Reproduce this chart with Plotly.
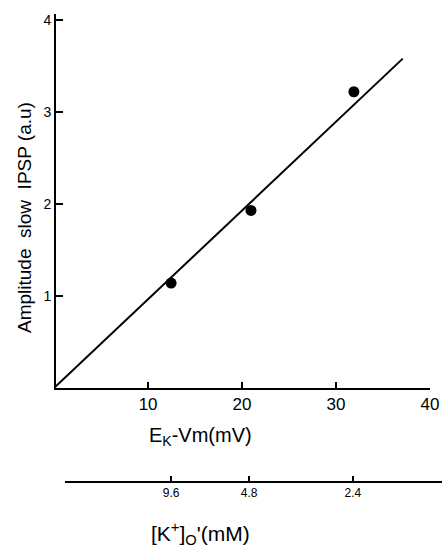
import plotly.graph_objects as go

# Data
ek_vm = [12.45, 20.95, 31.9]          # E_K - Vm (mV)
amplitude = [1.14, 1.93, 3.22]         # slow IPSP amplitude (a.u.)
fit_x = [0.0, 37.1]
fit_y = [0.0, 3.58]
x_ticks = [10, 20, 30, 40]
y_ticks = [1, 2, 3, 4]
k_conc_pos = [12.45, 20.75, 31.8]      # positions on E_K-Vm scale
k_conc_labels = ["9.6", "4.8", "2.4"]  # [K+]o (mM)

FONT = "Liberation Sans, Arial, sans-serif"

fig = go.Figure()
fig.add_trace(go.Scatter(x=fit_x, y=fit_y, mode="lines",
                         line=dict(color="black", width=2),
                         hoverinfo="skip", showlegend=False))
fig.add_trace(go.Scatter(x=ek_vm, y=amplitude, mode="markers",
                         marker=dict(color="black", size=11),
                         showlegend=False, cliponaxis=False))
fig.add_trace(go.Scatter(x=k_conc_pos, y=[None] * len(k_conc_pos),
                         xaxis="x2", yaxis="y", mode="markers",
                         showlegend=False, hoverinfo="skip"))

W, H = 442, 547
l, r, t, b = 56, 12, 14, 65
pw = W - l - r
ph = H - t - b

fig.update_layout(
    width=W, height=H,
    margin=dict(l=l, r=r, t=t, b=b, autoexpand=False),
    plot_bgcolor="rgba(0,0,0,0)", paper_bgcolor="white",
    font=dict(family=FONT, color="black"),
    xaxis=dict(domain=[0, (430 - l) / pw], range=[0.2, 40],
               tickvals=x_ticks, ticks="inside", ticklen=6, tickwidth=1.5,
               tickcolor="black", showline=True, linewidth=2,
               linecolor="black", showgrid=False, zeroline=False,
               tickfont=dict(size=17), anchor="y", automargin=False),
    yaxis=dict(domain=[(482 - 388) / ph, 1], range=[0, 4.065],
               tickvals=y_ticks, ticks="inside", ticklen=7, tickwidth=1.5,
               tickcolor="black", showline=True, linewidth=2,
               linecolor="black", showgrid=False, zeroline=False,
               tickfont=dict(size=14), anchor="x", automargin=False),
    xaxis2=dict(domain=[(65 - l) / pw, 1], range=[1.16, 41.28 - 12 / 9.397],
                anchor="free", position=0, automargin=False,
                tickvals=k_conc_pos, ticktext=k_conc_labels,
                ticks="inside", ticklen=5, tickwidth=1.5, tickcolor="black",
                showline=True, linewidth=2, linecolor="black",
                showgrid=False, zeroline=False, tickfont=dict(size=12)),
    shapes=[dict(type="line", xref="paper", yref="paper",
                 x0=1, x1=1 + r / pw, y0=0, y1=0,
                 line=dict(color="black", width=2))],
    annotations=[
        dict(text="Amplitude  slow  IPSP (a.u)", textangle=-90,
             x=24, y=218, showarrow=False, font=dict(size=19)),
        dict(text="E<sub>K</sub>-Vm(mV)", x=200, y=436, showarrow=False,
             font=dict(size=20)),
        dict(text="[K<sup>+</sup>]<sub>O</sub>'(mM)", x=200, y=533,
             showarrow=False, font=dict(size=21)),
    ],
)

# convert pixel positions of annotations to paper coordinates
for a in fig.layout.annotations:
    a.xref = "paper"
    a.yref = "paper"
    a.xanchor = "center"
    a.yanchor = "middle"
    a.x = (a.x - l) / pw
    a.y = (H - b - a.y) / ph

fig.write_html(
    "out.html",
    config={"displayModeBar": False},
    post_script="document.body.style.margin='0';"
                "document.documentElement.style.overflow='hidden';",
)
